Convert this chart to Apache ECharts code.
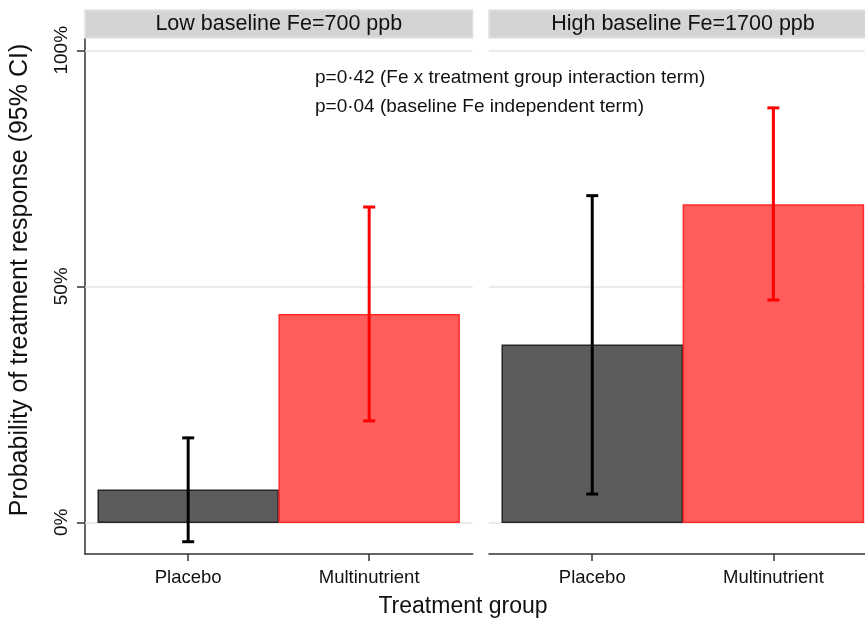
<!DOCTYPE html>
<html><head><meta charset="utf-8">
<script src="https://cdn.jsdelivr.net/npm/echarts@6/dist/echarts.min.js"></script>
<style>html,body{margin:0;padding:0;background:#fff}#c{width:865px;height:621px}</style>
</head><body><div id="c"></div>
<script>
const categories = ['Placebo', 'Multinutrient'];
const panelTitles = ['Low baseline Fe=700 ppb', 'High baseline Fe=1700 ppb'];
const lowEst = [0.068, 0.440];
const lowLower = [-0.041, 0.215];
const lowUpper = [0.179, 0.668];
const highEst = [0.375, 0.672];
const highLower = [0.060, 0.471];
const highUpper = [0.692, 0.878];
const yTicks = [0, 0.5, 1];
const yTickLabels = ['0%', '50%', '100%'];
const annotations = ['p=0·42 (Fe x treatment group interaction term)', 'p=0·04 (baseline Fe independent term)'];
const yTitle = 'Probability of treatment response (95% CI)';
const xTitle = 'Treatment group';

const barFill = ['#5c5c5c', '#ff5c5c'];
const barStroke = ['#262626', '#ff2a2a'];
const errColor = ['#000000', '#ff0000'];
const FONT = '"Liberation Sans", Arial, sans-serif';
const TXT = '#111111';

const chart = echarts.init(document.getElementById('c'), null, {renderer: 'canvas'});

const X_MIN = 0.43, X_MAX = 2.572, Y_MIN = -0.067, Y_MAX = 1.026;

function xAxis(idx) {
  return {
    type: 'value', gridIndex: idx, min: X_MIN, max: X_MAX,
    axisLine: {show: true, onZero: false, lineStyle: {color: '#333', width: 1.5}},
    axisTick: {show: true, customValues: [1, 2], length: 7, lineStyle: {color: '#333', width: 1.5}},
    axisLabel: {show: true, customValues: [1, 2], margin: 14, fontSize: 18.5, color: TXT, fontFamily: FONT,
      formatter: v => categories[Math.round(v) - 1] || ''},
    splitLine: {show: false}
  };
}
function yAxis(idx, show) {
  return {
    type: 'value', gridIndex: idx, min: Y_MIN, max: Y_MAX,
    axisLine: {show: show, onZero: false, lineStyle: {color: '#333', width: 1.5}},
    axisTick: {show: show, customValues: yTicks, length: 8, lineStyle: {color: '#333', width: 1.5}},
    axisLabel: {show: show, customValues: yTicks, rotate: 90, margin: 14, fontSize: 19, color: TXT, fontFamily: FONT,
      formatter: v => yTickLabels[yTicks.findIndex(t => Math.abs(t - v) < 1e-6)] || ''},
    splitLine: {show: false}
  };
}

function gridLines(idx) {
  return {
    type: 'line', xAxisIndex: idx, yAxisIndex: idx, data: [], z: 1, silent: true,
    markLine: {silent: true, z: 1, symbol: ['none', 'none'], label: {show: false},
      lineStyle: {color: '#e4e4e4', width: 1.5, type: 'solid'},
      data: yTicks.map(v => ({yAxis: v}))}
  };
}
function bars(idx, est) {
  return {
    type: 'custom', xAxisIndex: idx, yAxisIndex: idx, z: 3,
    data: est.map((v, i) => [i + 1, v, i]),
    renderItem: (params, api) => {
      const x = api.value(0), v = api.value(1), k = api.value(2);
      const p0 = api.coord([x - 0.497, v]);
      const p1 = api.coord([x + 0.497, 0]);
      return {type: 'rect', shape: {x: p0[0], y: p0[1], width: p1[0] - p0[0], height: p1[1] - p0[1]},
        style: {fill: barFill[k], stroke: barStroke[k], lineWidth: 1.5}};
    }
  };
}
function errs(idx, lo, hi) {
  return {
    type: 'custom', xAxisIndex: idx, yAxisIndex: idx, z: 4,
    data: lo.map((v, i) => [i + 1, v, hi[i], i]),
    renderItem: (params, api) => {
      const x = api.value(0), k = api.value(3);
      const a = api.coord([x, api.value(2)]);
      const b = api.coord([x, api.value(1)]);
      const st = {stroke: errColor[k], lineWidth: 3};
      return {type: 'group', children: [
        {type: 'line', shape: {x1: a[0], y1: a[1], x2: b[0], y2: b[1]}, style: st},
        {type: 'line', shape: {x1: a[0] - 6, y1: a[1], x2: a[0] + 6, y2: a[1]}, style: st},
        {type: 'line', shape: {x1: b[0] - 6, y1: b[1], x2: b[0] + 6, y2: b[1]}, style: st}
      ]};
    }
  };
}

const option = {
  backgroundColor: '#ffffff',
  animation: false,
  grid: [
    {left: 85, top: 38, width: 387.7, height: 516, containLabel: false, outerBoundsMode: 'none'},
    {left: 489, top: 38, width: 388, height: 516, containLabel: false, outerBoundsMode: 'none'}
  ],
  xAxis: [xAxis(0), xAxis(1)],
  yAxis: [yAxis(0, true), yAxis(1, false)],
  series: [
    gridLines(0), gridLines(1),
    bars(0, lowEst), bars(1, highEst),
    errs(0, lowLower, lowUpper), errs(1, highLower, highUpper)
  ],
  graphic: [
    {type: 'rect', shape: {x: 85, y: 10, width: 387.7, height: 28}, style: {fill: '#d4d4d4', stroke: '#dfe4e7', lineWidth: 1.5}, z: 5},
    {type: 'rect', shape: {x: 489, y: 10, width: 388, height: 28}, style: {fill: '#d4d4d4', stroke: '#dfe4e7', lineWidth: 1.5}, z: 5},
    {type: 'text', x: 278.8, y: 24, z: 6, style: {text: panelTitles[0], fill: TXT, font: '21.5px ' + FONT, align: 'center', verticalAlign: 'middle'}},
    {type: 'text', x: 683, y: 24, z: 6, style: {text: panelTitles[1], fill: TXT, font: '21.5px ' + FONT, align: 'center', verticalAlign: 'middle'}},
    {type: 'text', x: 315, y: 78, z: 6, style: {text: annotations[0], font: '19px ' + FONT, fill: TXT, align: 'left', verticalAlign: 'middle'}},
    {type: 'text', x: 315, y: 107, z: 6, style: {text: annotations[1], font: '19px ' + FONT, fill: TXT, align: 'left', verticalAlign: 'middle'}},
    {type: 'text', x: 20, y: 280, rotation: Math.PI / 2, z: 6, style: {text: yTitle, font: '25px ' + FONT, fill: TXT, align: 'center', verticalAlign: 'middle'}},
    {type: 'text', x: 463, y: 607, z: 6, style: {text: xTitle, font: '23px ' + FONT, fill: TXT, align: 'center', verticalAlign: 'middle'}}
  ]
};
chart.setOption(option);
</script>
</body></html>
